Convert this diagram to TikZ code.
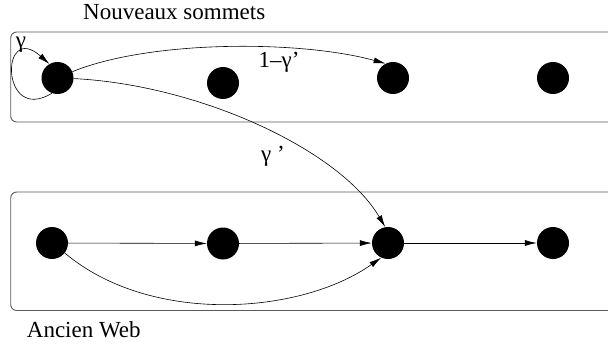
\documentclass[tikz,border=0pt]{standalone}
\usepackage{fontspec}
\setmainfont{Liberation Serif}
\usetikzlibrary{arrows.meta,shapes.geometric}
\begin{document}
\begin{tikzpicture}[x=1pt,y=-1pt,
  vtx/.style={circle,fill=black,minimum size=32pt,inner sep=0pt},
  panel/.style={draw=black!65,line width=0.9pt,rounded corners=6pt},
  edge/.style={line width=0.6pt,-{Latex[length=12pt,width=6pt]}},
  lbl/.style={font=\fontsize{23}{26}\selectfont,inner sep=0pt}]
\useasboundingbox (0,0) rectangle (608,345);
\draw[panel] (10.7,32) rectangle (640,122);
\draw[panel] (10.7,192) rectangle (640,310.5);
\node[lbl,anchor=base west] (tn) at (83,20) {Nouveaux sommets};
\node[lbl,anchor=base west] (tb) at (26.7,337) {Ancien Web};
\node[vtx] (a1) at (57.5,78) {};
\node[vtx] (a2) at (223,83) {};
\node[vtx] (a3) at (393,78) {};
\node[vtx] (a4) at (553,78) {};
\node[vtx] (b1) at (52,243) {};
\node[vtx] (b2) at (223,243.5) {};
\node[vtx] (b3) at (388,243) {};
\node[vtx] (b4) at (553,243) {};
\draw[edge] (a1.-110) .. controls (0,125) and (0,20) .. (a1.120);
\node[lbl] (g) at (21,45) {γ};
\draw[edge] (a1.23) .. controls (150,40) and (300,40) .. (a3.117);
\node[lbl] (l1) at (279,62) {1–γ’};
\draw[edge] (a1.-2) .. controls (200,85) and (340,150) .. (b3.100);
\node[lbl] (l2) at (273,156) {γ ’};
\draw[edge] (b1) -- (b2);
\draw[edge] (b2) -- (b3);
\draw[edge] (b3) -- (b4);
\draw[edge] (b1.-38) .. controls (150,325) and (300,315) .. (b3.-115);
\end{tikzpicture}
\end{document}
